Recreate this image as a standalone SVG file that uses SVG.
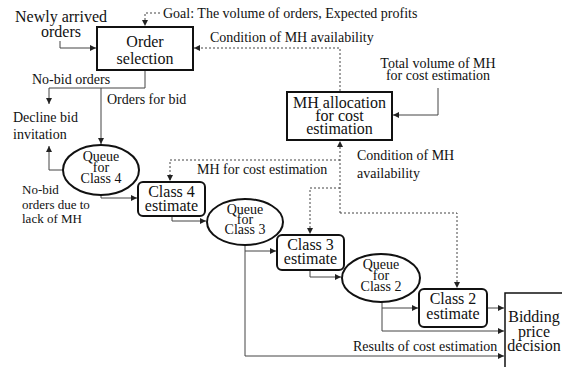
<svg xmlns="http://www.w3.org/2000/svg" width="562" height="367" viewBox="0 0 562 367" font-family="'Liberation Serif', 'DejaVu Serif', serif">
<defs>
<marker id="ah" viewBox="0 0 6 6" refX="6" refY="3" markerWidth="6" markerHeight="6" markerUnits="userSpaceOnUse" orient="auto"><path d="M0,0 L6,3 L0,6 z" fill="#222"/></marker>
</defs>
<style>
text{font-family:'Liberation Serif','DejaVu Serif',serif;fill:#111}
.t16{font-size:16px;text-anchor:middle}
.t14{font-size:14px}
.tq{font-size:14px;text-anchor:middle}
.t13{font-size:13px}
.box{fill:#fff;stroke:#111;stroke-width:2}
.c{fill:none;stroke:#444;stroke-width:1}
.d{fill:none;stroke:#444;stroke-width:1;stroke-dasharray:2,2}
.a{marker-end:url(#ah)}
</style>
<rect width="562" height="367" fill="#fff"/>
<g id="connectors">
<path class="c a" d="M60,41 V48 H96"/>
<path class="d a" d="M160,13 H145 V26"/>
<path class="d a" d="M340,91 V48 H194"/>
<path class="c a" d="M438,88 V115 H393"/>
<path class="c a" d="M145,71 V88 H49 V104"/>
<path class="c a" d="M101,88 V144"/>
<path class="c a" d="M63,170 H49 V146"/>
<path class="c a" d="M101,195 V198 H137"/>
<path class="d a" d="M340,213 V141"/>
<path class="d a" d="M340,160 H170 V181"/>
<path class="d a" d="M340,188 H310 V234"/>
<path class="d a" d="M340,213 H457 V288"/>
<path class="c a" d="M172,217 V221 H206"/>
<path class="c a" d="M245,245 V251 H276"/>
<path class="c a" d="M245,251 V356 H504"/>
<path class="c a" d="M310,271 V277 H341"/>
<path class="c a" d="M382,302 V308 H418"/>
<path class="c a" d="M382,308 V331 H504"/>
<path class="c a" d="M488,308 H504"/>
</g>
<g id="newly"><text class="t16" x="61" y="22">Newly arrived</text><text class="t16" x="61" y="37">orders</text></g>
<g id="goal"><text class="t14" x="163" y="18">Goal: The volume of orders, Expected profits</text></g>
<g id="cond1"><text class="t14" x="210" y="42">Condition of MH availability</text></g>
<g id="order-selection"><rect class="box" x="97" y="27" width="96" height="43"/><text class="t16" x="145" y="47">Order</text><text class="t16" x="145" y="64">selection</text></g>
<g id="nobid"><text class="t14" x="32" y="84">No-bid orders</text></g>
<g id="forbid"><text class="t14" x="107" y="104">Orders for bid</text></g>
<g id="decline"><text class="t14" x="13" y="122">Decline bid</text><text class="t14" x="13" y="139">invitation</text></g>
<g id="total"><text class="tq" x="438" y="68">Total volume of MH</text><text class="tq" x="438" y="80">for cost estimation</text></g>
<g id="mh-allocation"><rect class="box" x="287" y="92" width="105" height="48"/><text class="t16" x="339.5" y="108">MH allocation</text><text class="t16" x="339.5" y="121">for cost</text><text class="t16" x="339.5" y="134">estimation</text></g>
<g id="cond2"><text class="t14" x="357" y="160">Condition of MH</text><text class="t14" x="357" y="178">availability</text></g>
<g id="mhfor"><text class="t14" x="197" y="174">MH for cost estimation</text></g>
<g id="nobid-lack"><text class="t13" x="22" y="194">No-bid</text><text class="t13" x="22" y="209">orders due to</text><text class="t13" x="22" y="223">lack of MH</text></g>
<g id="queue4"><ellipse class="box" cx="101" cy="170" rx="38" ry="25"/><text class="tq" x="101" y="161">Queue</text><text class="tq" x="101" y="172">for</text><text class="tq" x="101" y="183">Class 4</text></g>
<g id="class4"><rect class="box" x="138" y="182" width="67" height="34" rx="5"/><text class="t16" x="171.5" y="196.5">Class 4</text><text class="t16" x="171.5" y="211">estimate</text></g>
<g id="queue3"><ellipse class="box" cx="245" cy="222" rx="38" ry="23"/><text class="tq" x="245" y="214">Queue</text><text class="tq" x="245" y="224">for</text><text class="tq" x="245" y="234">Class 3</text></g>
<g id="class3"><rect class="box" x="277" y="235" width="67" height="35" rx="5"/><text class="t16" x="310.5" y="250">Class 3</text><text class="t16" x="310.5" y="264">estimate</text></g>
<g id="queue2"><ellipse class="box" cx="381" cy="278" rx="39" ry="24"/><text class="tq" x="381" y="269">Queue</text><text class="tq" x="381" y="280">for</text><text class="tq" x="381" y="291">Class 2</text></g>
<g id="class2"><rect class="box" x="419" y="289" width="68" height="38" rx="5"/><text class="t16" x="453" y="304">Class 2</text><text class="t16" x="453" y="319">estimate</text></g>
<g id="results"><text class="t14" x="353" y="351">Results of cost estimation</text></g>
<g id="bidding"><rect x="505" y="293" width="70" height="90" fill="#fff" stroke="#111" stroke-width="1.5"/><text class="t16" x="534" y="322">Bidding</text><text class="t16" x="534" y="337">price</text><text class="t16" x="534" y="351">decision</text></g>
</svg>
